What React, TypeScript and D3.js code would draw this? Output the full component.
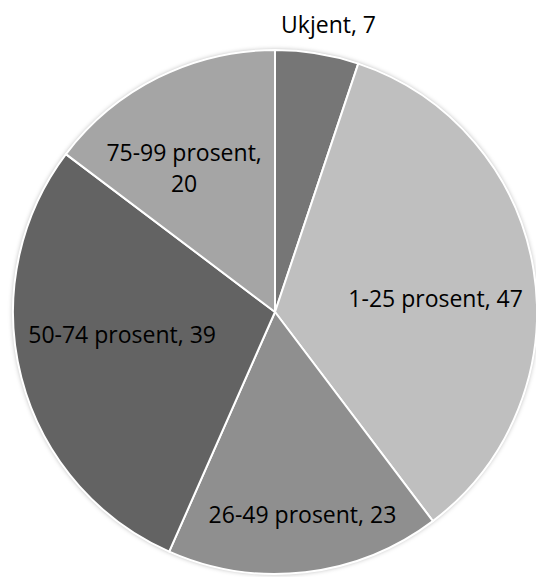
import React from "react";
import * as d3 from "d3";

const categories = ["Ukjent", "1-25 prosent", "26-49 prosent", "50-74 prosent", "75-99 prosent"];
const values = [7, 47, 23, 39, 20];
const colors = ["#767676", "#bfbfbf", "#8f8f8f", "#636363", "#a5a5a5"];
// label lines (as shown in the chart)
const labelLines = [
  ["Ukjent, 7"],
  ["1-25 prosent, 47"],
  ["26-49 prosent, 23"],
  ["50-74 prosent, 39"],
  ["75-99 prosent,", "20"],
];

// layout: label placement (radius factor, angle shift in degrees) per slice
const labelLayout = [
  { rf: 1.115, shift: 1.3 },
  { rf: 0.615, shift: 4.7 },
  { rf: 0.78, shift: -1.1 },
  { rf: 0.59, shift: 6.1 },
  { rf: 0.65, shift: -5.8 },
];

const W = 536;
const H = 577;
const CX = 275;
const CY = 312;
const R = 262;
const FONT = 23;
const LINE = 31;

export default function App() {
  const data = categories.map((c, i) => ({ c, v: values[i], i }));
  const pie = d3.pie<any>().sort(null).value((d) => d.v).startAngle(0).endAngle(2 * Math.PI);
  const arcs = pie(data);
  const arc = d3.arc<any>().innerRadius(0).outerRadius(R);

  return (
    <svg
      width={W}
      height={H}
      style={{ position: "absolute", left: 0, top: 0, background: "#fff" }}
    >
      <defs>
        <filter id="sh" x="-10%" y="-10%" width="120%" height="120%">
          <feDropShadow dx="0" dy="0" stdDeviation="2.5" floodColor="#000" floodOpacity="0.35" />
        </filter>
      </defs>
      <g transform={`translate(${CX},${CY})`}>
        <circle r={R} fill="#fff" filter="url(#sh)" />
        {arcs.map((a, i) => (
          <path key={i} d={arc(a) as string} fill={colors[i]} stroke="#fff" strokeWidth={2} strokeLinejoin="round" />
        ))}
        {arcs.map((a, i) => {
          const mid = (a.startAngle + a.endAngle) / 2 + (labelLayout[i].shift * Math.PI) / 180;
          const r = R * labelLayout[i].rf;
          const x = r * Math.sin(mid);
          const y = -r * Math.cos(mid);
          const lines = labelLines[i];
          const firstBaseline = y + 8 - ((lines.length - 1) * LINE) / 2;
          return (
            <text
              key={"t" + i}
              x={x}
              y={firstBaseline}
              textAnchor="middle"
              fontFamily="'Open Sans', sans-serif"
              fontSize={FONT}
              fill="#000"
            >
              {lines.map((l, j) => (
                <tspan key={j} x={x} y={firstBaseline + j * LINE}>
                  {l}
                </tspan>
              ))}
            </text>
          );
        })}
      </g>
    </svg>
  );
}
